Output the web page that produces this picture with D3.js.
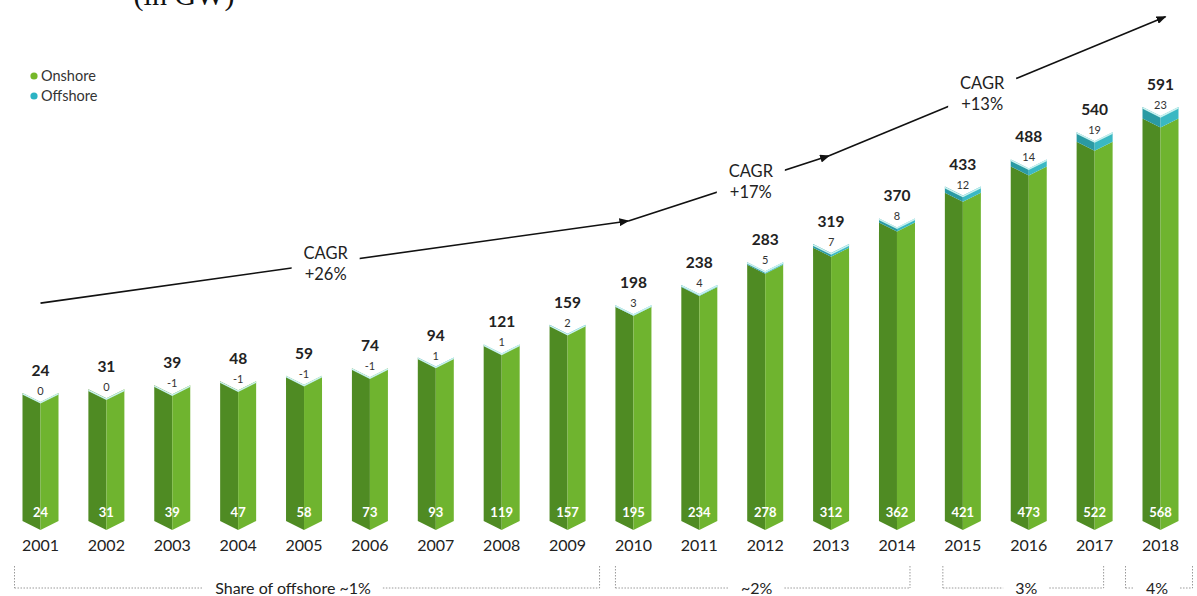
<!DOCTYPE html>
<html>
<head>
<meta charset="utf-8">
<script src="https://cdn.jsdelivr.net/npm/d3@7"></script>
<style>
  html, body { margin: 0; padding: 0; background: #fff; }
  svg { display: block; }
  text { font-family: Lato, "Open Sans", sans-serif; }
</style>
</head>
<body>
<svg id="chart" width="1197" height="596"></svg>
<script>
// Installed wind capacity, GW
const years    = [2001, 2002, 2003, 2004, 2005, 2006, 2007, 2008, 2009, 2010, 2011, 2012, 2013, 2014, 2015, 2016, 2017, 2018];
const onshore  = [24, 31, 39, 47, 58, 73, 93, 119, 157, 195, 234, 278, 312, 362, 421, 473, 522, 568];
const offshore = [0, 0, -1, -1, -1, -1, 1, 1, 2, 3, 4, 5, 7, 8, 12, 14, 19, 23];
const totals   = [24, 31, 39, 48, 59, 74, 94, 121, 159, 198, 238, 283, 319, 370, 433, 488, 540, 591];

// Growth periods (compound annual growth rate) with arrow anchors
const cagrLabels = ["+26%", "+17%", "+13%"];
const cagrFrom   = [2001, 2010, 2013];
const cagrTo     = [2010, 2013, 2018];
const cagrLevelFrom = [202, 365, 494];
const cagrLevelTo   = [365, 494, 770];

// Offshore share per period
const shareLabels = ["Share of offshore ~1%", "~2%", "3%", "4%"];
const shareFrom   = [2001, 2010, 2015, 2018];
const shareTo     = [2009, 2014, 2017, 2018];

const svg = d3.select("#chart");

const x = d3.scalePoint().domain(years).range([40.5, 1160.5]);
const y = d3.scaleLinear().domain([0, 600]).range([405, 102.4]);

const barW = 36;
const notch = 9;       // depth of the chevron at top and bottom
const floorY = 521;    // where every column stands

const col = {
  onDark: "#4f8b23", onLight: "#6fb42f",
  offDark: "#2a9aa3", offLight: "#3ab8c3",
  edge: "#c9f1ef"
};

// unit caption
svg.append("text")
  .attr("x", 184).attr("y", 5)
  .attr("text-anchor", "middle")
  .style("font-family", "'Liberation Serif', 'DejaVu Serif', serif")
  .style("font-size", "30px").attr("fill", "#111")
  .text("(in GW)");

// legend
const legend = svg.append("g");
[["Onshore", "#76b82a"], ["Offshore", "#2bb3c4"]].forEach((d, i) => {
  legend.append("circle").attr("cx", 34).attr("cy", 76 + i * 20).attr("r", 3.6).attr("fill", d[1]);
  legend.append("text").attr("x", 41).attr("y", 81 + i * 20)
    .style("font-size", "14.5px").attr("fill", "#333").text(d[0]);
});

// one half of a down-pointing chevron column
function half(cx, yTop, yBot, side, bottomTip) {
  const xo = cx + side * barW / 2;
  const bBot = bottomTip ? notch : 0;
  return `M${xo},${yTop} L${cx},${yTop + notch} L${cx},${yBot + bBot} L${xo},${yBot} Z`;
}

const bars = svg.append("g");
years.forEach((yr, i) => {
  const cx = x(yr);
  const yOn = y(onshore[i]);
  const g = bars.append("g");
  // onshore column
  g.append("path").attr("d", half(cx, yOn, floorY, -1, true)).attr("fill", col.onDark);
  g.append("path").attr("d", half(cx, yOn, floorY, 1, true)).attr("fill", col.onLight);
  // offshore band stacked on top
  let yTop = yOn;
  if (offshore[i] > 0) {
    const yOff = y(onshore[i] + offshore[i]);
    g.append("path")
      .attr("d", `M${cx - barW/2},${yOff} L${cx},${yOff + notch} L${cx},${yOn + notch} L${cx - barW/2},${yOn} Z`)
      .attr("fill", col.offDark);
    g.append("path")
      .attr("d", `M${cx},${yOff + notch} L${cx + barW/2},${yOff} L${cx + barW/2},${yOn} L${cx},${yOn + notch} Z`)
      .attr("fill", col.offLight);
    yTop = yOff;
  }
  // pale top edge
  g.append("path")
    .attr("d", `M${cx - barW/2},${yTop + 0.8} L${cx},${yTop + notch + 0.8} L${cx + barW/2},${yTop + 0.8}`)
    .attr("fill", "none").attr("stroke", col.edge).attr("stroke-width", 1.6);

  // value labels
  g.append("text").attr("x", cx).attr("y", yTop - 17)
    .attr("text-anchor", "middle").style("font-size", "15.5px").style("font-weight", 700)
    .attr("fill", "#222").text(totals[i]);
  g.append("text").attr("x", cx).attr("y", yTop + 2)
    .attr("text-anchor", "middle").style("font-size", "11px")
    .attr("fill", "#333").text(offshore[i]);
  g.append("text").attr("x", cx).attr("y", 517)
    .attr("text-anchor", "middle").style("font-size", "13px").style("font-weight", 700)
    .attr("fill", "#fff").text(onshore[i]);
  g.append("text").attr("x", cx).attr("y", 551)
    .attr("text-anchor", "middle").style("font-size", "16px")
    .attr("fill", "#222").text(yr);
});

// CAGR arrows
const defs = svg.append("defs");
defs.append("marker").attr("id", "arrow")
  .attr("viewBox", "0 0 10 8").attr("refX", 9).attr("refY", 4)
  .attr("markerWidth", 10).attr("markerHeight", 8).attr("markerUnits", "userSpaceOnUse")
  .attr("orient", "auto")
  .append("path").attr("d", "M0,0 L10,4 L0,8 Z").attr("fill", "#111");

const arrowEndShift = [-5, -2, 5];
const labelT = [0.485, 0.61, 0.455];
cagrLabels.forEach((lab, i) => {
  const x1 = x(cagrFrom[i]) + (i === 0 ? 0 : arrowEndShift[i - 1]);
  const y1 = y(cagrLevelFrom[i]);
  const x2 = x(cagrTo[i]) + arrowEndShift[i];
  const y2 = y(cagrLevelTo[i]);
  svg.append("line").attr("x1", x1).attr("y1", y1).attr("x2", x2).attr("y2", y2)
    .attr("stroke", "#111").attr("stroke-width", 1.6).attr("marker-end", "url(#arrow)");
  const t = labelT[i];
  const lx = x1 + (x2 - x1) * t, ly = y1 + (y2 - y1) * t;
  svg.append("rect").attr("x", lx - 34).attr("y", ly - 21).attr("width", 68).attr("height", 42).attr("fill", "#fff");
  svg.append("text").attr("x", lx).attr("y", ly - 4).attr("text-anchor", "middle")
    .style("font-size", "16.5px").attr("fill", "#222").text("CAGR");
  svg.append("text").attr("x", lx).attr("y", ly + 17).attr("text-anchor", "middle")
    .style("font-size", "16.5px").attr("fill", "#222").text(lab);
});

// offshore share brackets
const bracketPad = [[-26, 32], [-18, 13], [-20, 9], [-35, 32]];
const shareShift = [-14, -6, 3, -2];
shareLabels.forEach((lab, i) => {
  const xa = x(shareFrom[i]) + bracketPad[i][0];
  const xb = x(shareTo[i]) + bracketPad[i][1];
  const yl = 588;
  const mid = (xa + xb) / 2 + shareShift[i];
  const g = svg.append("g");
  const txt = g.append("text").attr("x", mid).attr("y", 594)
    .attr("text-anchor", "middle").style("font-size", "16px").attr("fill", "#222").text(lab);
  const w = txt.node().getComputedTextLength();
  const gap = w / 2 + 12;
  const seg = (a, b, c, d) => g.append("line")
    .attr("x1", a).attr("y1", b).attr("x2", c).attr("y2", d)
    .attr("stroke", "#999").attr("stroke-width", 1).attr("stroke-dasharray", "1.5,1.5");
  seg(xa, 566, xa, yl);
  seg(xb, 566, xb, yl);
  seg(xa, yl, mid - gap, yl);
  seg(mid + gap, yl, xb, yl);
});
</script>
</body>
</html>
